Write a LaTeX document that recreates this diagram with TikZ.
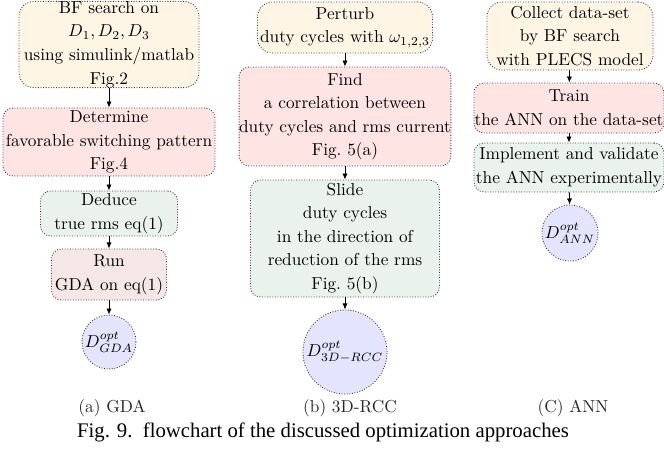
\documentclass[tikz,border=0pt]{standalone}
\usepackage{fontspec}
\newfontfamily\capfont{Liberation Serif}
\usetikzlibrary{arrows.meta}
\definecolor{cream}{RGB}{254,245,229}
\definecolor{pinkbox}{RGB}{255,228,228}
\definecolor{greenbox}{RGB}{233,242,236}
\definecolor{rosebox}{RGB}{245,231,231}
\definecolor{lavender}{RGB}{228,228,252}
\tikzset{
  flowbox/.style={draw=black!80, densely dotted, line width=0.5pt, rounded corners=5.8pt,
    align=center, inner sep=0pt, font=\fontsize{10}{13.6}\selectfont},
  startbox/.style={flowbox, fill=cream, rounded corners=8.7pt},
  endnode/.style={circle, draw=black!80, densely dotted, line width=0.5pt, fill=lavender,
    inner sep=0pt, font=\fontsize{10}{12}\selectfont},
  flowarrow/.style={-{Latex[length=3.5pt,width=3pt]}, line width=0.5pt, black},
  subcap/.style={font=\fontsize{10}{12}\selectfont, inner sep=0pt, text=black!85}
}
\begin{document}
\begin{tikzpicture}[x=0.578pt, y=-0.578pt]
\useasboundingbox (0,0) rectangle (664,457);
% Column A
\node[startbox, minimum width=104pt, minimum height=49.1pt] (a1) at (109,44.5)
  {BF search on\\ $D_1, D_2, D_3$\\ using simulink/matlab\\ Fig.2};
\node[flowbox, fill=pinkbox, minimum width=122.5pt, minimum height=39.3pt] (a2) at (109,142)
  {Determine\\ favorable switching pattern\\ Fig.4};
\node[flowbox, fill=greenbox, minimum width=79.2pt, minimum height=26pt] (a3) at (109,213.5)
  {Deduce\\ true rms eq(1)};
\node[flowbox, fill=rosebox, minimum width=66.5pt, minimum height=29.5pt] (a4) at (109,274.5)
  {Run\\ GDA on eq(1)};
\node[endnode, minimum size=31.2pt] (a5) at (109,342) {$D^{opt}_{GDA}$};
\draw[flowarrow] (a1) -- (a2);
\draw[flowarrow] (a2) -- (a3);
\draw[flowarrow] (a3) -- (a4);
\draw[flowarrow] (a4) -- (a5);
% Column B
\node[startbox, minimum width=101.2pt, minimum height=29.5pt] (b1) at (345,27.5)
  {Perturb\\ duty cycles with $\omega_{1,2,3}$};
\node[flowbox, fill=pinkbox, minimum width=122pt, minimum height=57.2pt] (b2) at (345,116.5)
  {Find\\ a correlation between\\ duty cycles and rms current\\ Fig.~5(a)};
\node[flowbox, fill=greenbox, minimum width=109.2pt, minimum height=67.6pt] (b3) at (345,238.5)
  {Slide\\ duty cycles\\ in the direction of\\ reduction of the rms\\ Fig.~5(b)};
\node[endnode, minimum size=48.6pt] (b4) at (345,352) {$D^{opt}_{3D-RCC}$};
\draw[flowarrow] (b1) -- (b2);
\draw[flowarrow] (b2) -- (b3);
\draw[flowarrow] (b3) -- (b4);
% Column C
\node[startbox, minimum width=96pt, minimum height=39.3pt] (c1) at (570,36)
  {Collect data-set\\ by BF search\\ with PLECS model};
\node[flowbox, fill=pinkbox, minimum width=109.8pt, minimum height=28.9pt] (c2) at (569,108)
  {Train\\ the ANN on the data-set};
\node[flowbox, fill=greenbox, minimum width=109.8pt, minimum height=28.3pt] (c3) at (569,167.5)
  {Implement and validate\\ the ANN experimentally};
\node[endnode, minimum size=32.4pt] (c4) at (570,233) {$D^{opt}_{ANN}$};
\draw[flowarrow] (c1) -- (c2);
\draw[flowarrow] (c2) -- (c3);
\draw[flowarrow] (c3) -- (c4);
% captions
\node[subcap] (capa) at (112,408) {(a) GDA};
\node[subcap] (capb) at (350,408) {(b) 3D-RCC};
\node[subcap] (capc) at (573,408) {(C) ANN};
\node[inner sep=0pt, font=\capfont\fontsize{12}{14}\selectfont] (cap) at (323,432)
  {Fig. 9.\enspace flowchart of the discussed optimization approaches};
\end{tikzpicture}
\end{document}
